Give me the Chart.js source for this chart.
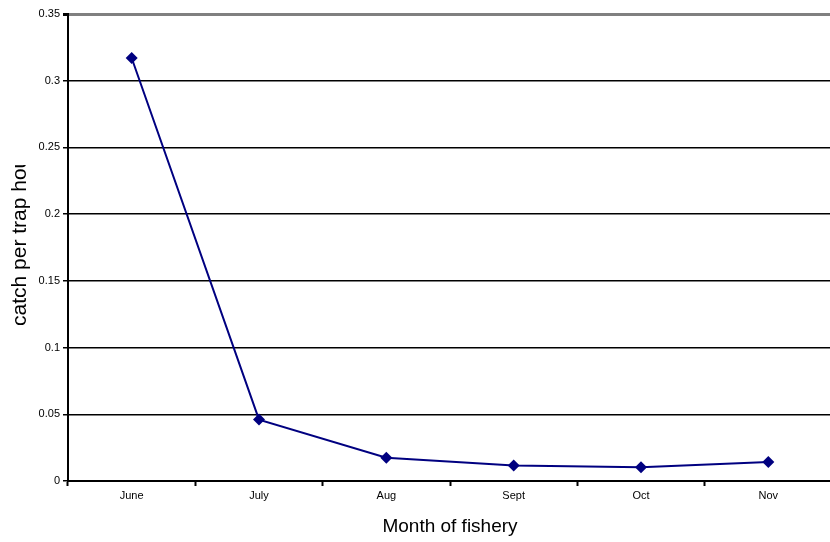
<!DOCTYPE html>
<html>
<head>
<meta charset="utf-8">
<script src="https://cdn.jsdelivr.net/npm/chart.js@4.4.1/dist/chart.umd.min.js"></script>
<style>
  html, body { margin: 0; padding: 0; background: #fff; overflow: hidden; }
  #wrap { width: 838px; height: 542px; }
</style>
</head>
<body>
<div id="wrap"><canvas id="catchChart" width="838" height="542"></canvas></div>
<script>
const months = ['June', 'July', 'Aug', 'Sept', 'Oct', 'Nov'];
const catchPerTrapHour = [0.317, 0.046, 0.0174, 0.0116, 0.0103, 0.0142];
const yTicks = [0, 0.05, 0.1, 0.15, 0.2, 0.25, 0.3, 0.35];

const NAVY = '#000080';
const FONT = 'Arial, "Liberation Sans", sans-serif';

// y title runs off the top in the original, so draw it clipped
const yTitlePlugin = {
    id: 'yTitle',
    afterDraw(chart) {
        const ctx = chart.ctx;
        ctx.save();
        ctx.beginPath();
        ctx.rect(0, 165, 60, chart.height);
        ctx.clip();
        ctx.translate(26, 326);
        ctx.rotate(-Math.PI / 2);
        ctx.font = '21px ' + FONT;
        ctx.fillStyle = '#000';
        ctx.textAlign = 'left';
        ctx.textBaseline = 'alphabetic';
        ctx.fillText('catch per trap hour', 0, 0);
        ctx.restore();
    }
};

const ctx = document.getElementById('catchChart').getContext('2d');

new Chart(ctx, {
    type: 'line',
    data: {
        labels: months,
        datasets: [{
            label: 'catch per trap hour',
            data: catchPerTrapHour,
            borderColor: NAVY,
            backgroundColor: NAVY,
            borderWidth: 2,
            tension: 0,
            pointStyle: 'rectRot',
            pointRadius: 6,
            pointBorderWidth: 0
        }]
    },
    options: {
        responsive: false,
        animation: false,
        layout: { padding: { top: 14, right: 0, bottom: 0, left: 0 } },
        plugins: {
            legend: { display: false },
            tooltip: { enabled: false }
        },
        scales: {
            x: {
                offset: true,
                afterFit: (scale) => { scale.height = 61; },
                grid: {
                    offset: true,
                    drawOnChartArea: false,
                    drawTicks: true,
                    tickLength: 5,
                    tickWidth: 2,
                    tickColor: '#000'
                },
                border: { color: '#000', width: 2 },
                ticks: {
                    color: '#000',
                    font: { family: FONT, size: 11 },
                    padding: 3,
                    maxRotation: 0
                },
                title: {
                    display: true,
                    text: 'Month of fishery',
                    color: '#000',
                    font: { family: FONT, size: 19 },
                    padding: { top: 6, bottom: 4 }
                }
            },
            y: {
                min: 0,
                max: 0.35,
                afterFit: (scale) => { scale.width = 68; },
                afterBuildTicks: (scale) => {
                    scale.ticks = yTicks.map(v => ({ value: v }));
                },
                grid: {
                    color: (c) => c.tick && c.tick.value === 0.35 ? '#808080' : '#000',
                    lineWidth: (c) => c.tick && c.tick.value === 0.35 ? 3 : 1.5,
                    drawTicks: true,
                    tickLength: 5,
                    tickColor: '#000'
                },
                border: { color: '#000', width: 2 },
                ticks: {
                    color: '#000',
                    font: { family: FONT, size: 11 },
                    padding: 3,
                    callback: (v) => String(Math.round(v * 100) / 100)
                }
            }
        }
    },
    plugins: [yTitlePlugin]
});
</script>
</body>
</html>
